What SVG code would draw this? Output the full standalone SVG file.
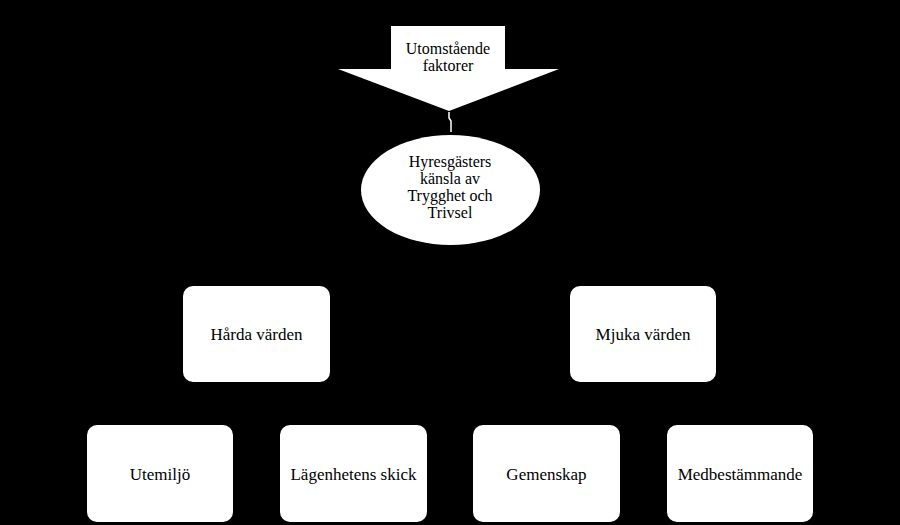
<svg xmlns="http://www.w3.org/2000/svg" width="900" height="525" viewBox="0 0 900 525">
<style>
text{font-family:"Liberation Serif","Times New Roman",serif;font-size:17px;fill:#000;text-anchor:middle}
text.ml{font-size:16px}
.box{fill:#fff;stroke:none}
</style>
<rect x="0" y="0" width="900" height="525" fill="#000"/>
<g id="connectors">
<path d="M449,112 L449,118 L451,121 L451,132" fill="none" stroke="#fff" stroke-width="1.5"/>
</g>
<g id="utomstaende">
<polygon class="box" points="391,26 505,26 505,69 559,69 449,111 338,69 391,69"/>
<text class="ml" x="448" y="54">Utomstående</text>
<text class="ml" x="448" y="71">faktorer</text>
</g>
<g id="hyresgaster">
<ellipse class="box" cx="450.5" cy="190" rx="89.5" ry="55"/>
<text class="ml" x="450" y="167">Hyresgästers</text>
<text class="ml" x="450" y="184">känsla av</text>
<text class="ml" x="450" y="201">Trygghet och</text>
<text class="ml" x="450" y="218">Trivsel</text>
</g>
<g id="harda">
<rect class="box" x="183" y="286" width="147" height="96" rx="10"/>
<text x="256.5" y="340">Hårda värden</text>
</g>
<g id="mjuka">
<rect class="box" x="570" y="286" width="146" height="96" rx="10"/>
<text x="643" y="340">Mjuka värden</text>
</g>
<g id="utemiljo">
<rect class="box" x="87" y="425" width="146" height="97" rx="10"/>
<text x="160" y="480">Utemiljö</text>
</g>
<g id="lagenhetens">
<rect class="box" x="280" y="425" width="147" height="97" rx="10"/>
<text x="353.5" y="480">Lägenhetens skick</text>
</g>
<g id="gemenskap">
<rect class="box" x="473" y="425" width="147" height="97" rx="10"/>
<text x="546.5" y="480">Gemenskap</text>
</g>
<g id="medbestammande">
<rect class="box" x="667" y="425" width="146" height="97" rx="10"/>
<text x="740" y="480">Medbestämmande</text>
</g>
</svg>
